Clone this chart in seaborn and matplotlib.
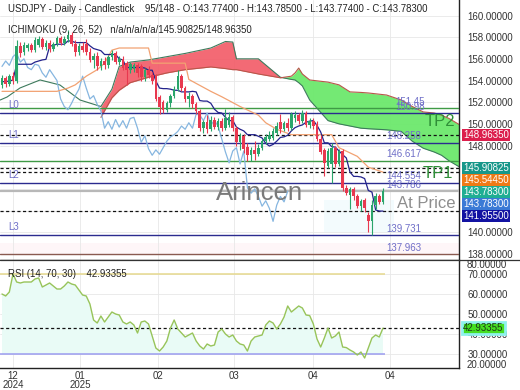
import numpy as np
import pandas as pd
import matplotlib
matplotlib.use("Agg")
import matplotlib.pyplot as plt
import seaborn as sns

# ---------------- data ----------------
opens = [153.6,154.2,153.7,154.4,154.0,157.2,156.6,157.0,157.3,156.8,
         157.3,157.8,157.1,157.5,156.9,157.4,157.9,157.5,157.8,158.2,
         157.4,156.6,157.2,157.4,156.6,155.9,156.3,155.3,155.8,155.4,
         156.2,156.5,155.7,156.0,155.6,155.0,155.1,155.4,155.3,154.3,
         155.0,154.5,154.4,152.5,152.0,151.3,151.9,152.6,153.2,154.4,
         153.3,152.3,152.6,151.8,151.2,149.6,150.2,149.5,150.4,149.7,
         150.3,149.6,149.9,150.6,149.6,148.3,148.9,147.9,147.1,147.6,
         147.2,147.8,148.4,148.6,148.7,149.2,150.2,149.5,150.1,149.6,
         150.5,150.8,150.3,151.0,149.9,150.3,150.0,148.6,147.6,146.1,
         146.3,147.8,146.3,147.5,144.1,143.4,144.0,143.3,142.4,143.0,
         141.6,141.0,142.5,143.3,142.8]
closes = [154.2,153.7,154.4,154.0,157.2,156.5,157.3,157.3,156.8,157.7,
          157.8,157.1,157.5,156.9,157.4,157.9,157.5,157.8,158.2,157.4,
          156.6,157.2,156.8,156.6,155.9,156.3,155.3,155.8,155.4,156.2,
          156.5,155.7,156.0,155.2,155.0,155.5,155.4,154.7,154.3,155.0,
          154.5,154.0,152.3,151.6,151.3,151.9,152.6,153.2,154.4,153.3,
          152.3,152.6,151.8,151.2,149.6,150.2,149.5,150.4,149.7,150.3,
          149.6,150.5,150.6,149.6,148.3,148.9,147.7,147.1,147.6,147.2,
          147.8,148.4,148.8,149.0,149.3,149.8,149.5,150.1,149.6,150.9,
          150.8,150.3,151.0,149.9,150.3,149.8,148.6,147.4,146.4,147.5,
          147.8,146.3,147.5,144.1,143.6,144.0,143.3,142.4,142.9,142.2,
          141.0,142.5,143.3,142.8,143.783]
highs = [154.5,154.4,154.6,154.8,157.7,157.6,157.6,157.5,157.5,158.0,
         158.1,158.0,157.7,157.7,157.6,158.1,158.1,158.1,158.7,158.5,
         157.7,157.5,157.6,157.8,157.0,156.5,156.6,156.1,156.2,156.4,
         156.8,156.7,156.3,156.3,155.8,155.7,155.6,155.6,155.5,155.2,
         155.3,154.8,154.6,152.7,152.2,152.1,152.8,153.5,155.0,154.6,
         153.5,152.9,152.8,152.0,151.4,150.4,150.8,150.7,150.6,150.5,
         150.5,151.4,151.1,150.8,149.8,149.2,149.1,148.2,147.9,148.4,
         148.1,148.6,149.1,149.3,149.6,150.2,150.9,150.3,150.5,151.1,
         151.2,151.0,151.3,151.2,150.5,150.5,150.3,149.0,147.8,147.8,
         148.2,148.0,147.7,147.7,144.4,144.2,144.2,143.5,143.1,143.2,
         141.9,143.0,143.6,143.5,144.1]
lows = [153.3,153.4,153.5,153.7,153.8,156.2,156.4,156.7,156.6,156.6,
        157.1,156.9,156.8,156.6,156.7,157.2,157.3,157.3,157.6,157.2,
        156.3,156.4,156.6,156.4,155.7,155.2,155.0,155.0,155.1,155.2,
        155.9,155.5,155.4,155.0,153.6,154.7,154.8,154.3,154.0,154.0,
        154.2,153.7,152.1,150.9,151.0,151.1,151.6,152.4,153.0,153.0,
        152.0,151.6,151.5,150.9,149.3,149.2,149.2,149.3,149.5,149.4,
        149.3,149.4,149.7,149.3,148.0,147.6,147.3,146.6,146.6,146.7,
        147.0,147.6,148.1,148.4,148.5,149.0,149.2,149.3,149.3,149.4,
        150.2,150.0,150.1,149.7,149.6,149.5,148.4,147.2,145.2,145.9,
        144.5,146.0,146.1,143.8,143.4,142.1,143.0,142.2,142.0,141.9,
        140.0,139.7,142.1,142.6,142.6]

rsi_values = [60,59,61,70,66,65.5,66,66,66,67.5,
              68,63.5,64.5,65.5,64,62.5,62.5,64,66,65,
              64.5,62,59.5,59,55,47,45.5,49,46,48.5,
              51,50,49.5,46,45,46,44.5,40.5,46,46.5,
              45,39,33,31.5,33.5,36.5,43,47,42.5,40.5,
              38.5,39.5,40.5,36.5,34,32.5,35,34,34.5,41,
              42.5,40,38.5,39.5,36.5,35,34.5,31.5,36.5,38.5,
              39,39.5,44.5,46.5,45.5,42.5,45,48.5,54,51,
              52.5,54,53,49.5,49.2,45,37.5,33.5,38,43,
              38,39,41,33.5,33.2,32,31,29.5,31,28,
              33,38,39.5,38.5,42.93355]

kijun_idx = [0,15,18,20,23,26,28,30,32,40,41,50,51,57,60,65,70,72,75,79,90,92,97,100,104]
kijun_vals = [153.0,153.0,153.3,153.6,154.4,155.0,155.6,156.8,157.0,157.0,155.6,155.6,154.1,
              153.0,152.5,151.6,150.8,150.1,149.5,149.0,149.0,147.8,147.0,146.0,145.5445]

span_pre_idx = [-0.5,1.4,4.9,10.4,15.8,21.3,27]
span_pre_vals = [152.2,152.48,153.31,154.05,153.59,152.2,151.6]
cloud_idx = [27,30,32,35,40,45,50,57,61,63,64,70,76,79,80,81,82,84,89,92,95,98,100,105,109,112,115,118,120,122,125]
span_x = [151.6,153.2,155.3,155.7,155.9,156.2,156.5,157.0,157.6,157.55,156.0,156.0,154.3,154.1,154.05,
          153.8,153.5,152.2,150.3,150.0,149.8,149.6,149.55,149.45,149.3,148.4,147.75,147.4,147.1,146.6,146.0]
span_y = [150.6,152.4,153.1,153.8,154.3,154.7,155.0,155.25,155.1,155.0,155.0,154.6,154.25,154.4,154.7,
          155.15,154.6,154.05,153.85,153.6,152.95,152.9,152.85,152.66,152.2,151.6,151.1,151.0,150.8,150.5,149.9]

levels_blue = [150.98, 148.258, 144.554, 139.731]
levels_blue_names = ["L0", "L1", "L2", "L3"]
levels_green = [151.45, 146.617]
level_price = 143.786
level_low = 137.963
ichi_now = [148.9635, 145.90825, 145.5445, 141.955]
right_labels = ["151.45", "150.98", "148.258", "146.617", "144.554", "143.786", "139.731", "137.963"]
right_label_vals = [151.45, 150.98, 148.258, 146.617, 144.554, 143.786, 139.731, 137.963]

box_vals = [148.9635, 145.90825, 145.5445, 143.783, 143.783, 141.955]
box_colors = ["#dc1f4c", "#17978a", "#f07a16", "#1fae93", "#3b7ad6", "#1212a2"]

xtick_pos = [3.0, 21.3, 42.6, 63.3, 84.9, 105.9]
xtick_labels = ["12\n2024", "01\n2025", "02", "03", "04", "04"]
price_ticks = list(range(138, 161, 2))
price_tick_show = [160, 158, 156, 154, 152, 150, 148, 140, 138]
rsi_ticks = [30, 40, 50, 60, 70]

title1 = "USDJPY - Daily - Candlestick    95/148 - O:143.77400 - H:143.78500 - L:143.77400 - C:143.78300"
title2 = "ICHIMOKU (9, 26, 52)   n/a/n/a/n/a/145.90825/148.96350"
rsi_title = "RSI (14, 70, 30)    42.93355"

# ---------------- frame ----------------
o = np.array(opens); c = np.array(closes); h = np.array(highs); l = np.array(lows)
n = len(c)
idx = np.arange(n)
df = pd.DataFrame({"i": idx, "o": o, "c": c, "h": h, "l": l, "rsi": rsi_values})
df["tenkan"] = (df["h"].rolling(9, min_periods=1).max() + df["l"].rolling(9, min_periods=1).min()) / 2
chikou = pd.DataFrame({"i": idx[:n - 26], "v": c[26:]})

sns.set_style("white")
plt.rcParams["font.family"] = ["Liberation Sans", "DejaVu Sans"]

W, H = 520, 390
fig = plt.figure(figsize=(5.2, 3.9), dpi=100)
ax = fig.add_axes([0, 130 / H, 459 / W, 260 / H])
ax2 = fig.add_axes([0, 22 / H, 459 / W, 107 / H], sharex=ax)

xl = (-2 / 3.663, (459 - 2) / 3.663)
ax.set_xlim(*xl)
ax.set_ylim(160 - 244.5 / 10.835, 160 + 15.5 / 10.835)
ax2.set_ylim(23, 76.5)

for a in (ax, ax2):
    for s in ("left", "top"):
        a.spines[s].set_visible(False)
    a.spines["right"].set_color("#222222")
    a.spines["bottom"].set_color("#222222")
    a.spines["right"].set_linewidth(1.0)
    a.spines["bottom"].set_linewidth(1.0)
    a.set_facecolor("white")
    a.set_xticks(xtick_pos)
    a.grid(True, axis="both", color="#e8e8e8", lw=0.6)
    a.set_axisbelow(True)

ax.set_yticks(price_ticks)
ax.set_yticklabels([f"{t:.5f}" if t in price_tick_show else "" for t in price_ticks])
ax.yaxis.tick_right()
ax.tick_params(axis="y", length=0, pad=6, labelsize=7, colors="#333333")
ax.tick_params(axis="x", length=0, labelbottom=False)

ax2.set_yticks(rsi_ticks)
ax2.set_yticklabels([f"{t:.5f}" for t in rsi_ticks])
ax2.yaxis.tick_right()
ax2.tick_params(axis="y", length=0, pad=6, labelsize=7, colors="#333333")
ax2.set_xticklabels(xtick_labels)
ax2.tick_params(axis="x", length=0, pad=2, labelsize=7, colors="#333333")
for t in ax2.get_xticklabels():
    t.set_linespacing(0.95)
ax2.text(1.0 + 8 / 459, 0.965, "80.00000", transform=ax2.transAxes, fontsize=7, color="#333333", va="center")
ax2.text(1.0 + 8 / 459, 0.03, "20.00000", transform=ax2.transAxes, fontsize=7, color="#333333", va="center")

# pale zones
ax.fill_between([88, 107], 139.9, 143.0, color="#f3fbfd", lw=0, zorder=0.5)
ax.fill_between([-1, 126], level_low, 139.0, color="#fef6f8", lw=0, zorder=0.5)

# cloud
cx = np.array(cloud_idx, float); sx = np.array(span_x); sy = np.array(span_y)
ax.fill_between(cx, sx, sy, where=sx >= sy, interpolate=True, color="#f25a66", alpha=0.9, lw=0, zorder=1)
ax.fill_between(cx, sx, sy, where=sx < sy, interpolate=True, color="#6de86d", alpha=0.95, lw=0, zorder=1)
sns.lineplot(x=span_pre_idx + cloud_idx[1:], y=span_pre_vals + span_x[1:], ax=ax, color="#3d7a5c", lw=0.8, sort=False, zorder=2)
sns.lineplot(x=cloud_idx, y=span_y, ax=ax, color="#b8564a", lw=0.8, sort=False, zorder=2)

# level lines
for v in levels_green:
    ax.axhline(v, color="#3f9a46", lw=1.0, zorder=3)
for v in levels_blue:
    ax.axhline(v, color="#2b2b8f", lw=1.0, zorder=3)
for v in ichi_now:
    ax.axhline(v, color="#111111", lw=0.9, ls=(0, (2.5, 2)), zorder=3)
ax.axhline(level_price, color="#b8b8b8", lw=1.6, zorder=3)
ax.axhline(level_low, color="#8a5a50", lw=1.0, zorder=3)

# ichimoku lines
sns.lineplot(data=chikou, x="i", y="v", ax=ax, color="#86b6e0", lw=0.9, zorder=4)
sns.lineplot(x=kijun_idx, y=kijun_vals, ax=ax, color="#f2a272", lw=0.9, zorder=4)
sns.lineplot(data=df, x="i", y="tenkan", ax=ax, color="#23238c", lw=0.9, zorder=4)

# candles
up = c >= o
col = np.where(up, "#2aa56b", "#e8384f")
ax.vlines(idx, l, h, colors=col, lw=0.8, zorder=5)
ax.bar(idx, np.maximum(np.abs(c - o), 0.06), bottom=np.minimum(o, c), width=0.72, color=col, lw=0, zorder=6)

# texts main
ax.text(8 / 459, 1 - 9 / 260, title1, transform=ax.transAxes, fontsize=6.9, color="#222222", va="center", zorder=10)
ax.text(8 / 459, 1 - 30 / 260, title2, transform=ax.transAxes, fontsize=6.9, color="#222222", va="center", zorder=10)
for v, name in zip(levels_blue, levels_blue_names):
    ax.annotate(name, xy=(8 / 459, v), xycoords=("axes fraction", "data"), xytext=(0, 2),
                textcoords="offset points", fontsize=7, color="#6f6fc8", va="bottom", zorder=10)
for txt, v in zip(right_labels, right_label_vals):
    ax.annotate(txt, xy=(386 / 459 if len(txt) > 6 else 395 / 459, v), xycoords=("axes fraction", "data"),
                xytext=(0, 1), textcoords="offset points", fontsize=7, color="#6f6fc8", va="bottom", zorder=10)
ax.text(440 / 459, 1 - 121 / 260, "TP2", transform=ax.transAxes, fontsize=12, color="#2f8f38", ha="center", va="center", zorder=10)
ax.text(438 / 459, 1 - 173 / 260, "TP1", transform=ax.transAxes, fontsize=12, color="#2f8f38", ha="center", va="center", zorder=10)
ax.text(426 / 459, 1 - 204 / 260, "At Price", transform=ax.transAxes, fontsize=12, color="#8e8e8e", ha="center", va="center", zorder=10)
ax.text(260 / 459, 1 - 193 / 260, "Arincen", transform=ax.transAxes, fontsize=18.5, color="#7a7a7a", ha="center", va="center", zorder=9)

# right boxes (stacked so they do not overlap)
gap = 12 / 10.835
placed = []
for v in box_vals:
    y = v if not placed else min(v, placed[-1] - gap)
    placed.append(y)
for y, txt, colr in zip(placed, box_vals, box_colors):
    ax.text(1 + 4 / 459, y, f"{txt:.5f}", transform=ax.get_yaxis_transform(), fontsize=7, color="white",
            va="center", ha="left", zorder=12, clip_on=False,
            bbox=dict(boxstyle="square,pad=0.13", fc=colr, ec="none"))

# RSI
r = np.array(rsi_values)
ax2.fill_between(idx, r, 30, where=r > 30, interpolate=True, color="#e9fbf6", lw=0, zorder=1)
ax2.hlines(70, xl[0], 104.6, color="#e6d98e", lw=1.1, zorder=2)
ax2.hlines(30, xl[0], 104.6, color="#9c9cf0", lw=1.1, zorder=2)
ax2.axhline(rsi_values[-1], color="#111111", lw=0.9, ls=(0, (2.5, 2)), zorder=3)
sns.lineplot(data=df, x="i", y="rsi", ax=ax2, color="#98c45a", lw=1.0, zorder=4)
ax2.text(8 / 459, 70, rsi_title, transform=ax2.get_yaxis_transform(), fontsize=6.9, color="#222222", va="center", zorder=10)
ax2.text(1 + 4 / 459, rsi_values[-1], f"{rsi_values[-1]:.5f}", transform=ax2.get_yaxis_transform(), fontsize=7,
         color="#1a3a1a", va="center", ha="left", zorder=12, clip_on=False,
         bbox=dict(boxstyle="square,pad=0.13", fc="#45de23", ec="#8ff2ee", lw=2))

for a in (ax, ax2):
    a.set_xlabel("")
    a.set_ylabel("")

fig.add_artist(plt.Line2D([0, 1], [130 / H, 130 / H], color="#333333", lw=0.9, transform=fig.transFigure))

fig.savefig("out.png", dpi=100, facecolor="white")
